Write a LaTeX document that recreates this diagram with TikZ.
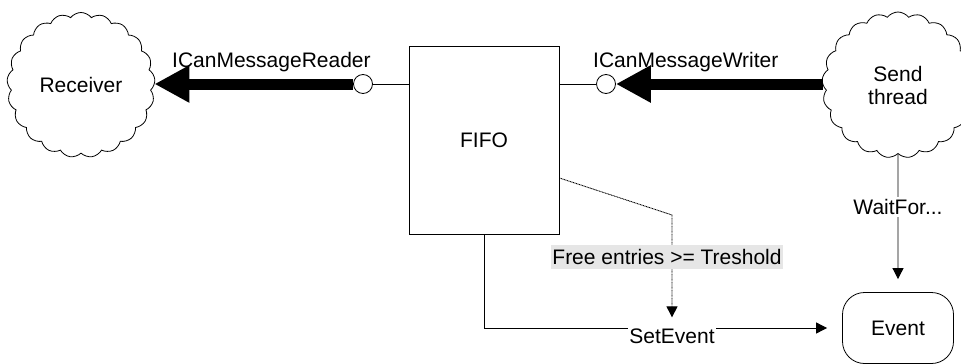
\documentclass[tikz,border=0pt]{standalone}
\usepackage{fontspec}
\setmainfont{Liberation Sans}
\usetikzlibrary{shapes.symbols,arrows.meta}
\definecolor{labelgray}{HTML}{E6E6E6}
\begin{document}
\begin{tikzpicture}[x=1pt,y=-1pt,
  every node/.style={font=\fontsize{21}{23}\selectfont, inner sep=0pt},
  thinline/.style={draw=black, line width=0.8pt},
  puffy/.style={cloud, cloud puffs=21, cloud puff arc=105, aspect=1,
    draw, line width=0.8pt, align=center},
  port/.style={circle, draw, fill=white, minimum size=19pt, line width=0.8pt},
  bigarrow/.style={line width=11pt, -{Triangle[length=35pt,width=35pt]}},
  smallarrow/.style={line width=0.8pt, -{Triangle[length=11pt,width=11pt]}},
  lbl/.style={fill=white, inner xsep=1pt, inner ysep=2pt}]

\useasboundingbox (0,0) rectangle (961,364);
\clip (0,0) rectangle (961,364);

% actors and buffer
\node[puffy, minimum width=148pt, minimum height=145pt] (recv) at (81,85) {Receiver};
\node[puffy, minimum width=152pt, minimum height=146pt] (send) at (898,85) {Send\\thread};
\node[thinline, minimum width=150pt, minimum height=188pt] (fifo) at (484,140) {FIFO};
\node[thinline, rounded corners=22pt, minimum width=111pt, minimum height=71pt] (event) at (898,328) {Event};

% interface ports
\node[port] (rport) at (363,84) {};
\node[port] (wport) at (606,84) {};

% port stubs on the FIFO
\draw[thinline] (rport) -- (rport -| fifo.west);
\draw[thinline] (wport) -- (wport -| fifo.east);

% data flow
\draw[bigarrow] (rport.west) -- (recv.east |- rport);
\draw[bigarrow] (send.west |- wport) -- (wport.east);

\node[anchor=base west] (rlabel) at (172,67) {ICanMessageReader};
\node[anchor=base west] (wlabel) at (593,67) {ICanMessageWriter};

% event signalling
\draw[thinline, smallarrow, shorten >=15pt] (fifo.south) |- (event.west);
\node[lbl] (setev) at (672,336) {SetEvent};

\path (fifo.east) ++(0,38) coordinate (dotstart);
\coordinate (bend) at (672,215);
\draw[dash pattern=on 1pt off 0.6pt, line width=0.9pt, -{Triangle[length=11pt,width=11pt]}, shorten >=9pt]
  (dotstart) -- (bend) -- (bend |- setev.north);
\node[fill=labelgray, inner xsep=1pt, minimum height=24pt] (thr) at (667,257) {Free entries >= Treshold};

\draw[thinline, smallarrow, shorten >=13pt] (send.south) -- (event.north);
\node[lbl] (wait) at (898,207) {WaitFor...};

\end{tikzpicture}
\end{document}
